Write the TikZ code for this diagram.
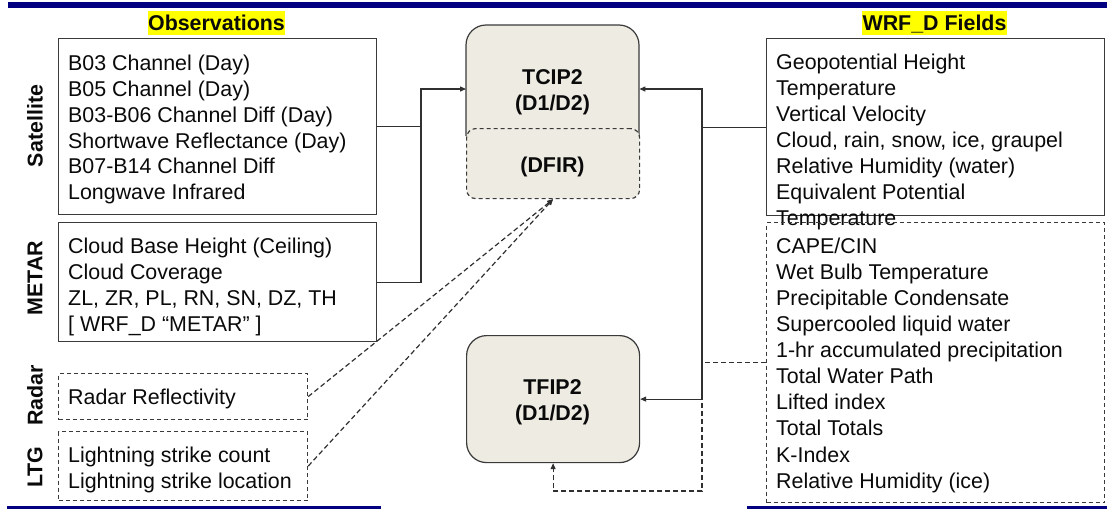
\documentclass[tikz,border=0pt]{standalone}
\usepackage{fontspec}
\setmainfont{Liberation Sans}
\usetikzlibrary{arrows.meta}

\definecolor{navy}{HTML}{000080}
\definecolor{edge}{HTML}{3A3A3A}
\definecolor{wire}{HTML}{303030}
\definecolor{beige}{HTML}{EEEBE2}
\definecolor{ink}{HTML}{0A0A0A}
\definecolor{hilite}{HTML}{FFFF00}

\begin{document}
\begin{tikzpicture}[x=1pt,y=-1pt,
  >={Triangle[length=6pt,width=5pt]},
  every node/.style={text=ink},
  fbox/.style={draw=edge, line width=1.2pt, inner sep=0pt, anchor=north west},
  dbox/.style={fbox, dash pattern=on 4pt off 3pt},
  body/.style={anchor=north west, inner sep=0pt, align=left,
               font=\fontsize{21.4}{25.9}\selectfont},
  widebody/.style={body, font=\fontsize{21.4}{26.1}\selectfont},
  cbody/.style={inner sep=0pt, align=center,
                font=\bfseries\fontsize{21.4}{26}\selectfont},
  side/.style={rotate=90, inner sep=0pt,
               font=\bfseries\fontsize{21.4}{25.6}\selectfont},
  title/.style={anchor=base, fill=hilite, inner xsep=0.5pt, inner ysep=0pt,
                text height=19pt, text depth=5pt,
                font=\bfseries\fontsize{21.4}{25.6}\selectfont},
  wireline/.style={draw=wire, line width=1.2pt},
  dwire/.style={wireline, dash pattern=on 5pt off 3pt},
  procfill/.style={fill=beige}
]
\useasboundingbox (0,0) rectangle (1107,509);
\fill[white] (0,0) rectangle (1107,509);

% header and footer rules
\fill[navy] (8,1.5) rectangle (1107,8);
\fill[navy] (7,506) rectangle (381,509);
\fill[navy] (747,506) rectangle (1107,509);

% column titles
\node[title] (obsT) at (216.5,30) {Observations};
\node[title] (wrfTitle) at (934.5,30) {WRF\_D Fields};

% observation boxes
\node[fbox, minimum width=318, minimum height=176] (sat) at (58,38) {};
\node[body] (satT) at (68,52) {\strut B03 Channel (Day)\\
  \strut B05 Channel (Day)\\
  \strut B03-B06 Channel Diff (Day)\\
  \strut Shortwave Reflectance (Day)\\
  \strut B07-B14 Channel Diff\\
  \strut Longwave Infrared};

\node[fbox, minimum width=318, minimum height=119] (metar) at (58,222) {};
\node[body] (metarT) at (68,235.5) {\strut Cloud Base Height (Ceiling)\\
  \strut Cloud Coverage\\
  \strut ZL, ZR, PL, RN, SN, DZ, TH\\
  \strut [ WRF\_D “METAR” ]};

\node[dbox, minimum width=249, minimum height=46] (radar) at (58,373) {};
\node[body] (radarT) at (68,386.5) {\strut Radar Reflectivity};

\node[dbox, minimum width=249, minimum height=69] (ltg) at (58,431) {};
\node[body] (ltgT) at (68,444.5) {\strut Lightning strike count\\
  \strut Lightning strike location};

% source labels
\node[side] (satL) at (35,126) {Satellite};
\node[side] (metarL) at (35,278) {METAR};
\node[side] (radarL) at (35,395.5) {Radar};
\node[side] (ltgL) at (35,467) {LTG};

% WRF_D field boxes
\node[fbox, minimum width=338, minimum height=177] (wrf) at (766,38) {};
\node[body] (wrfT) at (776,51.5) {\strut Geopotential Height\\
  \strut Temperature\\
  \strut Vertical Velocity\\
  \strut Cloud, rain, snow, ice, graupel\\
  \strut Relative Humidity (water)\\
  \strut Equivalent Potential\\
  \strut Temperature};

\node[dbox, minimum width=338, minimum height=280] (wrfd) at (766,222) {};
\node[widebody] (wrfdT) at (776,234.8) {\strut CAPE/CIN\\
  \strut Wet Bulb Temperature\\
  \strut Precipitable Condensate\\
  \strut Supercooled liquid water\\
  \strut 1-hr accumulated precipitation\\
  \strut Total Water Path\\
  \strut Lifted index\\
  \strut Total Totals\\
  \strut K-Index\\
  \strut Relative Humidity (ice)};

% TCIP2 block with its DFIR part
\node[inner sep=0pt, minimum width=173, minimum height=173, anchor=north west] (tcip) at (466,25) {};
\fill[procfill, rounded corners=20pt] (466,190) -- (466,25) -- (639,25) -- (639,190) -- cycle;
\draw[draw=edge, line width=1.2pt, rounded corners=20pt] (466,136) -- (466,25) -- (639,25) -- (639,136);
\node[dbox, procfill, rounded corners=9pt, minimum width=173, minimum height=70] (dfir) at (466,128) {};
\node[cbody, anchor=north] (tcipT) at (552.5,66.5) {\strut TCIP2\\ \strut (D1/D2)};
\node[cbody, anchor=base] (dfirT) at (552.5,172) {(DFIR)};

% TFIP2 block
\node[fbox, procfill, rounded corners=20pt, minimum width=173, minimum height=127] (tfip) at (466,335) {};
\node[cbody, anchor=north] (tfipT) at (552.5,376.5) {\strut TFIP2\\ \strut (D1/D2)};

% connectors: observations to TCIP2
\coordinate (lb) at (421,89);
\draw[wireline] (sat.east) -- (sat.east -| lb);
\draw[wireline, ->] (metar.east) -| (lb) -- (lb -| tcip.west);

% connectors: WRF_D fields to TCIP2 and TFIP2
\coordinate (rb) at (702,89);
\draw[wireline] (wrf.west) -- (wrf.west -| rb);
\draw[wireline, <->] (rb -| tcip.east) -- (rb) -- (rb |- tfip.east) -- (tfip.east);
\coordinate (db) at (702,491);
\draw[dwire, ->] (wrfd.west) -- (wrfd.west -| db) -- (db) -- (db -| tfip.south) -- (tfip.south);

% radar and lightning into DFIR
\draw[dwire, ->] (radar.east) -- (dfir.south);
\draw[dwire, ->] (ltg.east) -- (dfir.south);
\end{tikzpicture}
\end{document}
